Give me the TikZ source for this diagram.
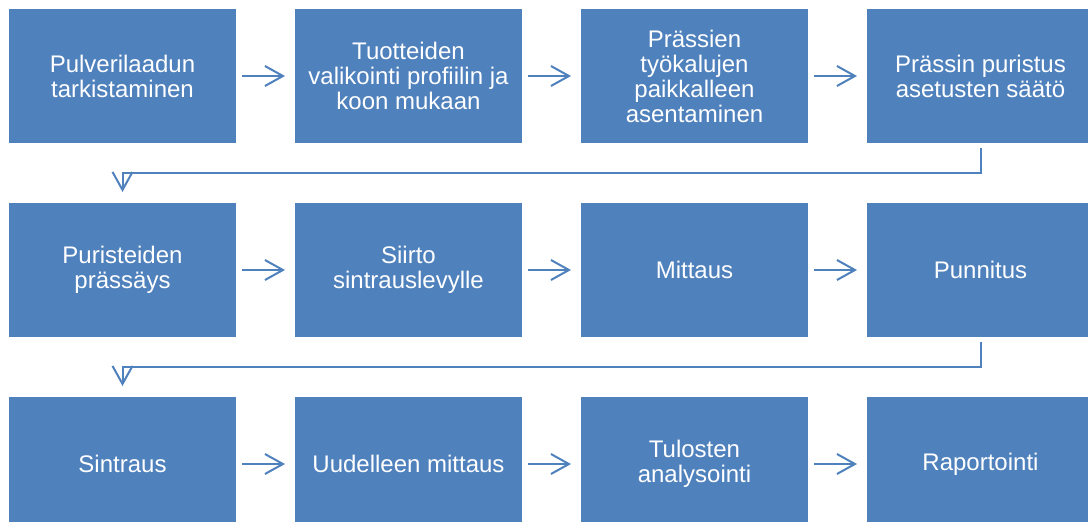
\documentclass[tikz,border=0pt]{standalone}
\usepackage{fontspec}
\setmainfont{Liberation Sans}
\usetikzlibrary{arrows.meta}
\usetikzlibrary{positioning}
\definecolor{stepblue}{HTML}{4F81BD}

\begin{document}
\begin{tikzpicture}[->,>={Straight Barb[length=18pt,width=20pt]},auto,node distance=60pt and 59pt,
                    line width=2pt,draw=stepblue,
                    main node/.style={rectangle,fill=stepblue,text=white,minimum width=227pt,minimum height=134pt,
                                      inner sep=0pt,outer sep=0pt,align=center,font=\fontsize{24}{25}\selectfont}]

  \clip (0,0) rectangle (1088pt,-522pt);

  \node[main node,anchor=north west] (A1) at (9pt,-9pt) {Pulverilaadun\\tarkistaminen};
  \node[main node] (A2) [right=of A1] {Tuotteiden\\valikointi profiilin ja\\koon mukaan};
  \node[main node] (A3) [right=of A2] {Prässien\\työkalujen\\paikkalleen\\asentaminen};
  \node[main node] (A4) [right=of A3] {Prässin puristus\\asetusten säätö};

  \node[main node] (B1) [below=of A1] {Puristeiden\\prässäys};
  \node[main node] (B2) [right=of B1] {Siirto\\sintrauslevylle};
  \node[main node] (B3) [right=of B2] {Mittaus};
  \node[main node] (B4) [right=of B3] {Punnitus};

  \node[main node] (C1) [below=of B1] {Sintraus};
  \node[main node] (C2) [right=of C1] {Uudelleen mittaus};
  \node[main node] (C3) [right=of C2] {Tulosten\\analysointi};
  \node[main node] (C4) [right=of C3] {Raportointi};

  \draw[stepblue, shorten <=6pt, shorten >=10pt]
  	(A1) edge (A2)
  	(A2) edge (A3)
  	(A3) edge (A4)

  	(B1) edge (B2)
  	(B2) edge (B3)
  	(B3) edge (B4)

  	(C1) edge (C2)
  	(C2) edge (C3)
  	(C3) edge (C4)
  	;

  \draw[stepblue, shorten <=5pt, shorten >=11pt] (A4.south) -- ++(0,-30pt) -| (B1.north);
  \draw[stepblue, shorten <=5pt, shorten >=11pt] (B4.south) -- ++(0,-30pt) -| (C1.north);
\end{tikzpicture}
\end{document}
